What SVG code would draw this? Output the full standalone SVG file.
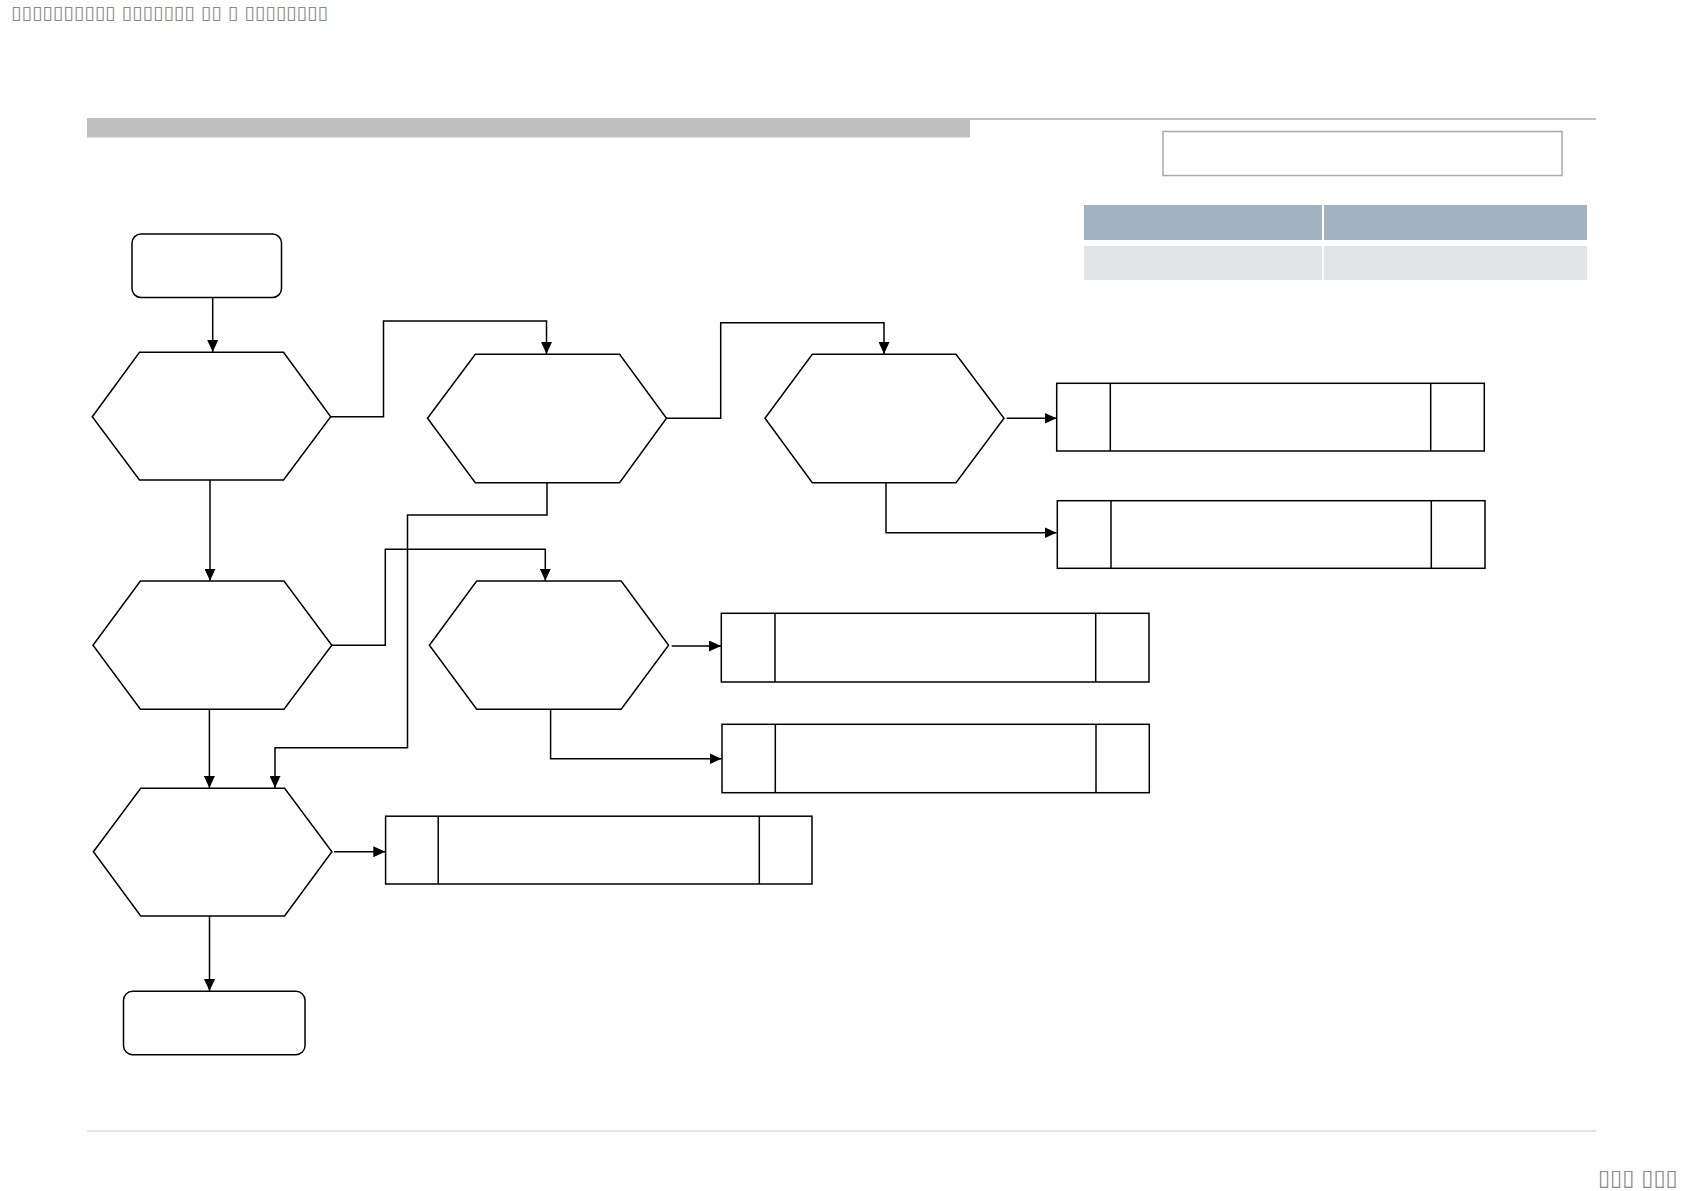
<svg xmlns="http://www.w3.org/2000/svg" width="1684" height="1191" viewBox="0 0 1684 1191">
<style>
.n{fill:#fff;stroke:#000;stroke-width:1.5}
.d{stroke:#000;stroke-width:1.5;fill:none}
.c{fill:none;stroke:#000;stroke-width:1.5}
.t{font-family:"DejaVu Sans",sans-serif;fill:#8a8a8a}
</style>
<defs>
<marker id="ah" markerUnits="userSpaceOnUse" markerWidth="13" markerHeight="11" refX="12" refY="5.5" orient="auto">
<path d="M0,0 L12,5.5 L0,11 Z" fill="#000"/>
</marker>
</defs>
<rect width="1684" height="1191" fill="#fff"/>
<g id="header">
<rect x="87" y="118" width="883" height="19.5" fill="#c0c0c0"/>
<line x1="970" y1="119" x2="1596" y2="119" stroke="#c0c0c0" stroke-width="2"/>
<rect x="1163" y="131.5" width="399" height="44" fill="#fff" stroke="#a6a8b6" stroke-width="1.5"/>
<rect x="1084" y="205" width="238" height="35" fill="#a3b2c0"/>
<rect x="1324" y="205" width="263" height="35" fill="#a3b2c0"/>
<rect x="1084" y="246" width="238" height="34" fill="#e1e3e7"/>
<rect x="1324" y="246" width="263" height="34" fill="#e1e3e7"/>
<line x1="87" y1="1131" x2="1596" y2="1131" stroke="#c8c8c8" stroke-width="1"/>
<text class="t" x="11" y="19" font-size="19">▯▯▯▯▯▯▯▯▯▯ ▯▯▯▯▯▯▯ ▯▯ ▯ ▯▯▯▯▯▯▯▯</text>
<text class="t" x="1598" y="1185" font-size="22">▯▯▯ ▯▯▯</text>
</g>
<g id="start"><rect class="n" x="132" y="234" width="149.5" height="63.5" rx="9"/></g>
<g id="hex1"><polygon class="n" points="92.3,416.7 139.5,352.3 283.5,352.3 330.7,416.7 283.5,480 139.5,480"/></g>
<g id="hex2"><polygon class="n" points="427.5,418.3 475.3,354.3 619.6,354.3 666.5,418.3 619.6,482.7 475.3,482.7"/></g>
<g id="hex3"><polygon class="n" points="765,418.3 812.3,354.3 956,354.3 1004,418.3 956,482.7 812.3,482.7"/></g>
<g id="hex4"><polygon class="n" points="93,645.3 140.4,581 284,581 331.8,645.3 284,709.3 140.4,709.3"/></g>
<g id="hex6"><polygon class="n" points="429.4,645.3 476.7,581 621.2,581 668.6,645.3 621.2,709.3 476.7,709.3"/></g>
<g id="hex5"><polygon class="n" points="93.4,851.7 140.7,788.3 284.6,788.3 331.9,851.7 284.6,916 140.7,916"/></g>
<g id="end"><rect class="n" x="123.5" y="991.3" width="181.5" height="63.4" rx="9"/></g>
<g id="box1"><rect class="n" x="1056.7" y="383.3" width="427.6" height="67.7"/><line class="d" x1="1110.3" y1="383.3" x2="1110.3" y2="451"/><line class="d" x1="1430.7" y1="383.3" x2="1430.7" y2="451" stroke-width="2"/></g>
<g id="box2"><rect class="n" x="1057.3" y="500.7" width="427.7" height="67.6"/><line class="d" x1="1111" y1="500.7" x2="1111" y2="568.3" stroke-width="2"/><line class="d" x1="1431.3" y1="500.7" x2="1431.3" y2="568.3"/></g>
<g id="box3"><rect class="n" x="721.3" y="613.3" width="427.7" height="68.7"/><line class="d" x1="775" y1="613.3" x2="775" y2="682" stroke-width="2"/><line class="d" x1="1095.7" y1="613.3" x2="1095.7" y2="682"/></g>
<g id="box4"><rect class="n" x="722" y="724.3" width="427.3" height="68.4"/><line class="d" x1="775.3" y1="724.3" x2="775.3" y2="792.7"/><line class="d" x1="1096" y1="724.3" x2="1096" y2="792.7" stroke-width="2"/></g>
<g id="box5"><rect class="n" x="385.6" y="816.2" width="426.4" height="67.8"/><line class="d" x1="438.2" y1="816.2" x2="438.2" y2="884"/><line class="d" x1="759.3" y1="816.2" x2="759.3" y2="884" stroke-width="2"/></g>
<g id="connectors">
<path class="c" d="M212.7,297.5 V352" marker-end="url(#ah)"/>
<path class="c" d="M330.7,416.7 H383.5 V321 H546.5 V354" marker-end="url(#ah)"/>
<path class="c" d="M666.5,418.3 H720.7 V322.7 H884 V354" marker-end="url(#ah)"/>
<path class="c" d="M1006.7,418.3 H1056.5" marker-end="url(#ah)"/>
<path class="c" d="M886,482.7 V532.7 H1056.5" marker-end="url(#ah)"/>
<path class="c" d="M210,480 V580.8" marker-end="url(#ah)"/>
<path class="c" d="M547,482.7 V515 H407.5 V747.7 H275 V788" marker-end="url(#ah)"/>
<path class="c" d="M331.8,645.3 H385.3 V549.3 H545.3 V580.8" marker-end="url(#ah)"/>
<path class="c" d="M671.7,646 H721" marker-end="url(#ah)"/>
<path class="c" d="M550.6,709.3 V758.7 H721.5" marker-end="url(#ah)"/>
<path class="c" d="M209.4,709.3 V788" marker-end="url(#ah)"/>
<path class="c" d="M334,851.7 H385.3" marker-end="url(#ah)"/>
<path class="c" d="M209.5,916 V991" marker-end="url(#ah)"/>
</g>
</svg>
